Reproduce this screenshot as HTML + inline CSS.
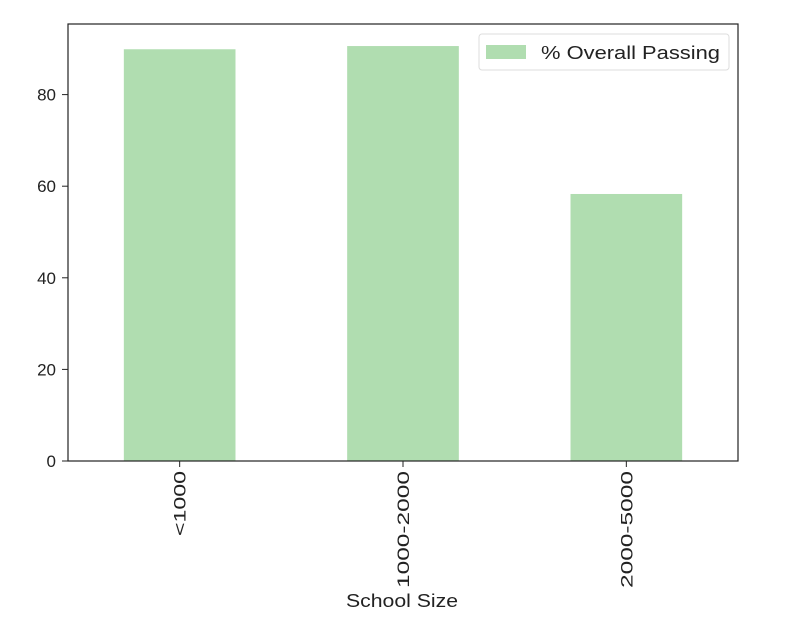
<!DOCTYPE html>
<html><head><meta charset="utf-8"><style>body{margin:0;background:#fff}svg{display:block;font-family:"Liberation Sans","DejaVu Sans",sans-serif}</style></head>
<body>
<svg id="chart" width="808" height="620">
<rect x="68" y="24" width="670" height="437" fill="#fff"/>
<g id="bars"></g>
<g id="yticks"></g>
<g id="xticks"></g>
<rect x="68" y="24" width="670" height="437" fill="none" stroke="#222" stroke-width="1.2"/>
<text x="402" y="607" text-anchor="middle" font-size="18" fill="#222" textLength="112" lengthAdjust="spacingAndGlyphs">School Size</text>
<g>
<rect x="479" y="34" width="250" height="36" rx="3" fill="#fff" stroke="#ddd"/>
<rect x="486" y="45" width="40" height="14" fill="#b0ddb0"/>
<text x="541" y="59" font-size="18" fill="#222" textLength="179" lengthAdjust="spacingAndGlyphs">% Overall Passing</text>
</g>
</svg>
<script>
const categories = ["<1000", "1000-2000", "2000-5000"];
const values = [89.9, 90.6, 58.3];
const yTicks = [0, 20, 40, 60, 80];
const NS = "http://www.w3.org/2000/svg";
const L = 68, R = 738, B = 461, pxPerUnit = 4.58;
const y = v => B - v * pxPerUnit;
const step = (R - L) / categories.length;
const x = i => L + step * (i + 0.5);
const bw = step * 0.5;
function mk(tag, attrs, parent) { const e = document.createElementNS(NS, tag); for (const k in attrs) e.setAttribute(k, attrs[k]); parent.appendChild(e); return e; }
const gb = document.getElementById("bars"), gy = document.getElementById("yticks"), gx = document.getElementById("xticks");
values.forEach((v, i) => {
  const r = mk("rect", {x: x(i) - bw / 2, y: y(v), width: bw, height: B - y(v), fill: "#b0ddb0"}, gb);
  
  
});
yTicks.forEach(t => {
  const l = mk("line", {x1: L - 6, x2: L, y1: y(t), y2: y(t), stroke: "#222"}, gy);
  
  
  const tx = mk("text", {x: L - 12, y: y(t) + 6, "text-anchor": "end", "font-size": "17", fill: "#222"}, gy);
  tx.textContent = t;
  
  
});
categories.forEach((c, i) => {
  const l = mk("line", {x1: x(i), x2: x(i), y1: B, y2: B + 6, stroke: "#222"}, gx);
  
  
  const tx = mk("text", {x: x(i) + 6, y: B + 10, "text-anchor": "end", "font-size": "17", fill: "#222", textLength: 13 * c.length, lengthAdjust: "spacingAndGlyphs", transform: `rotate(-90 ${x(i) + 6} ${B + 10})`}, gx);
  tx.textContent = c;
  
  
});
</script>
</body></html>
